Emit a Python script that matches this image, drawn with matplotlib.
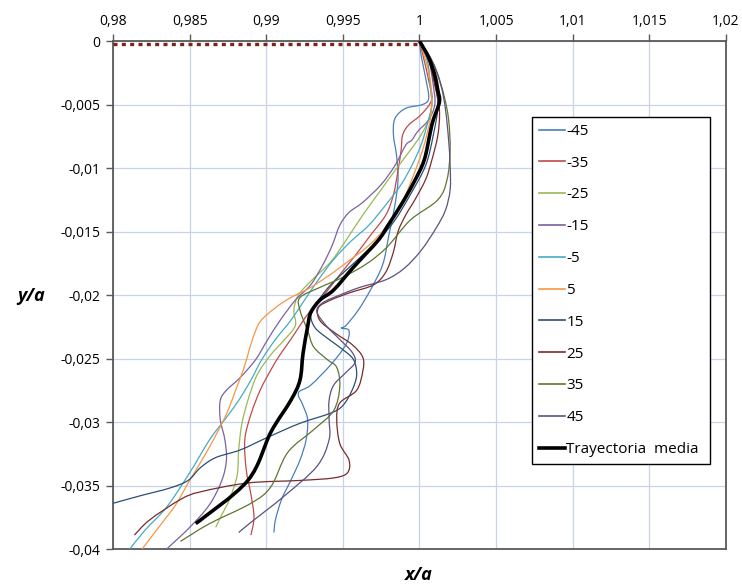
import matplotlib
matplotlib.use('Agg')
import matplotlib.pyplot as plt
import matplotlib.transforms as mtransforms
from matplotlib.path import Path
from matplotlib.patches import PathPatch
from matplotlib.lines import Line2D

plt.rcParams['font.family'] = ['Open Sans', 'DejaVu Sans']

# x/a, y/a of each trajectory
x_m45 = [1.0000, 1.0001, 1.0004, 1.0006, 1.0002, 0.9991, 0.9984, 0.9983, 0.9985, 0.9986, 0.9984, 0.9980, 0.9976, 0.9968,
         0.9960, 0.9952, 0.9949, 0.9954, 0.9952, 0.9942, 0.9929, 0.9921, 0.9924, 0.9927, 0.9926, 0.9922, 0.9916, 0.9910,
         0.9906, 0.9905]
y_m45 = [0, -0.0011, -0.0029, -0.0045, -0.0050, -0.0053, -0.0061, -0.0074, -0.0090, -0.0109, -0.0129, -0.0153, -0.0176,
         -0.0196, -0.0212, -0.0224, -0.0226, -0.0228, -0.0239, -0.0255, -0.0271, -0.0277, -0.0287, -0.0298, -0.0314,
         -0.0330, -0.0346, -0.0361, -0.0377, -0.0387]

x_m35 = [1.0000, 1.0003, 1.0006, 1.0008, 1.0001, 0.9993, 0.9989, 0.9988, 0.9986, 0.9983, 0.9978, 0.9968, 0.9958, 0.9948,
         0.9939, 0.9929, 0.9922, 0.9916, 0.9909, 0.9903, 0.9896, 0.9890, 0.9886, 0.9887, 0.9890, 0.9892, 0.9890]
y_m35 = [0, -0.0015, -0.0031, -0.0046, -0.0058, -0.0066, -0.0074, -0.0086, -0.0102, -0.0121, -0.0137, -0.0153, -0.0169,
         -0.0184, -0.0198, -0.0212, -0.0224, -0.0235, -0.0247, -0.0259, -0.0275, -0.0294, -0.0314, -0.0338, -0.0357,
         -0.0375, -0.0389]

x_m25 = [1.0000, 1.0005, 1.0007, 1.0008, 1.0006, 1.0001, 0.9994, 0.9984, 0.9975, 0.9963, 0.9952, 0.9942, 0.9930, 0.9921,
         0.9918, 0.9919, 0.9912, 0.9903, 0.9894, 0.9888, 0.9884, 0.9882, 0.9881, 0.9876, 0.9871, 0.9867]
y_m25 = [0, -0.0015, -0.0035, -0.0050, -0.0062, -0.0074, -0.0086, -0.0102, -0.0117, -0.0137, -0.0157, -0.0174, -0.0188,
         -0.0200, -0.0212, -0.0224, -0.0235, -0.0247, -0.0263, -0.0283, -0.0302, -0.0322, -0.0342, -0.0361, -0.0373,
         -0.0383]

x_m15 = [1.0000, 1.0006, 1.0009, 1.0010, 1.0006, 0.9999, 0.9995, 0.9991, 0.9984, 0.9975, 0.9963, 0.9954, 0.9948, 0.9943,
         0.9937, 0.9929, 0.9919, 0.9909, 0.9901, 0.9893, 0.9883, 0.9874, 0.9870, 0.9870, 0.9873, 0.9874, 0.9871, 0.9863,
         0.9850, 0.9835]
y_m15 = [0, -0.0015, -0.0035, -0.0050, -0.0062, -0.0071, -0.0078, -0.0082, -0.0098, -0.0113, -0.0127, -0.0135, -0.0145,
         -0.0161, -0.0176, -0.0192, -0.0204, -0.0220, -0.0235, -0.0251, -0.0265, -0.0275, -0.0283, -0.0298, -0.0314,
         -0.0330, -0.0346, -0.0365, -0.0383, -0.0400]

x_m5 = [1.0000, 1.0005, 1.0007, 1.0008, 1.0005, 1.0001, 0.9995, 0.9988, 0.9978, 0.9967, 0.9955, 0.9944, 0.9934, 0.9925,
        0.9916, 0.9906, 0.9897, 0.9890, 0.9882, 0.9873, 0.9863, 0.9850, 0.9835, 0.9821, 0.9811]
y_m5 = [0, -0.0015, -0.0035, -0.0050, -0.0066, -0.0082, -0.0098, -0.0113, -0.0129, -0.0145, -0.0158, -0.0172, -0.0188,
        -0.0204, -0.0220, -0.0235, -0.0251, -0.0267, -0.0283, -0.0298, -0.0314, -0.0340, -0.0367, -0.0385, -0.0400]

x_p5 = [1.0000, 1.0004, 1.0007, 1.0008, 1.0007, 1.0002, 0.9995, 0.9988, 0.9978, 0.9966, 0.9955, 0.9944, 0.9929, 0.9916,
        0.9906, 0.9896, 0.9891, 0.9888, 0.9885, 0.9880, 0.9875, 0.9869, 0.9860, 0.9850, 0.9841, 0.9831, 0.9819]
y_p5 = [0, -0.0015, -0.0031, -0.0046, -0.0062, -0.0086, -0.0109, -0.0129, -0.0147, -0.0162, -0.0172, -0.0182, -0.0194,
        -0.0202, -0.0210, -0.0221, -0.0235, -0.0247, -0.0259, -0.0275, -0.0291, -0.0306, -0.0326, -0.0346, -0.0365,
        -0.0381, -0.0400]

x_p15 = [1.0000, 1.0005, 1.0009, 1.0012, 1.0009, 1.0004, 0.9994, 0.9984, 0.9973, 0.9958, 0.9942, 0.9932, 0.9929, 0.9932,
         0.9941, 0.9950, 0.9957, 0.9959, 0.9956, 0.9950, 0.9942, 0.9922, 0.9901, 0.9883, 0.9867, 0.9857, 0.9849, 0.9837,
         0.9818, 0.9800]
y_p15 = [0, -0.0011, -0.0027, -0.0050, -0.0074, -0.0098, -0.0121, -0.0141, -0.0157, -0.0174, -0.0192, -0.0208, -0.0216,
         -0.0226, -0.0235, -0.0243, -0.0251, -0.0263, -0.0275, -0.0287, -0.0293, -0.0301, -0.0312, -0.0322, -0.0328,
         -0.0336, -0.0346, -0.0352, -0.0358, -0.0364]

x_p25 = [1.0000, 1.0006, 1.0010, 1.0013, 1.0012, 1.0008, 1.0004, 0.9997, 0.9991, 0.9986, 0.9983, 0.9978, 0.9970, 0.9955,
         0.9942, 0.9934, 0.9935, 0.9945, 0.9956, 0.9963, 0.9963, 0.9959, 0.9948, 0.9946, 0.9948, 0.9954, 0.9953, 0.9944,
         0.9922, 0.9888, 0.9857, 0.9844, 0.9824, 0.9814]
y_p25 = [0, -0.0015, -0.0035, -0.0054, -0.0074, -0.0094, -0.0109, -0.0125, -0.0137, -0.0150, -0.0166, -0.0182, -0.0192,
         -0.0198, -0.0204, -0.0210, -0.0220, -0.0230, -0.0239, -0.0249, -0.0260, -0.0275, -0.0285, -0.0298, -0.0317,
         -0.0330, -0.0340, -0.0344, -0.0346, -0.0348, -0.0355, -0.0361, -0.0377, -0.0389]

x_p35 = [1.0000, 1.0005, 1.0011, 1.0016, 1.0019, 1.0020, 1.0018, 1.0012, 0.9994, 0.9979, 0.9966, 0.9950, 0.9935, 0.9922,
         0.9922, 0.9927, 0.9931, 0.9940, 0.9946, 0.9948, 0.9944, 0.9931, 0.9914, 0.9903, 0.9890, 0.9863, 0.9844]
y_p35 = [0, -0.0009, -0.0023, -0.0043, -0.0062, -0.0086, -0.0109, -0.0125, -0.0141, -0.0162, -0.0175, -0.0186, -0.0194,
         -0.0202, -0.0212, -0.0228, -0.0241, -0.0251, -0.0257, -0.0272, -0.0291, -0.0306, -0.0324, -0.0351, -0.0364,
         -0.0380, -0.0394]

x_p45 = [1.0000, 1.0008, 1.0014, 1.0017, 1.0019, 1.0020, 1.0020, 1.0017, 1.0011, 1.0001, 0.9990, 0.9978, 0.9961, 0.9948,
         0.9937, 0.9933, 0.9939, 0.9948, 0.9956, 0.9958, 0.9952, 0.9944, 0.9941, 0.9941, 0.9941, 0.9933, 0.9911, 0.9890,
         0.9882]
y_p45 = [0, -0.0015, -0.0035, -0.0054, -0.0078, -0.0098, -0.0117, -0.0133, -0.0147, -0.0165, -0.0179, -0.0188, -0.0194,
         -0.0200, -0.0206, -0.0213, -0.0224, -0.0235, -0.0245, -0.0253, -0.0261, -0.0271, -0.0283, -0.0298, -0.0314,
         -0.0335, -0.0359, -0.0379, -0.0387]

x_mean = [1.0000, 1.0006, 1.0010, 1.0012, 1.0013, 1.0009, 1.0007, 1.0003, 0.9996, 0.9988, 0.9979, 0.9973, 0.9957, 0.9944,
          0.9935, 0.9929, 0.9927, 0.9924, 0.9922, 0.9916, 0.9903, 0.9888, 0.9854]
y_mean = [0, -0.0013, -0.0027, -0.0039, -0.0048, -0.0062, -0.0072, -0.0094, -0.0112, -0.0129, -0.0146, -0.0157, -0.0178,
          -0.0196, -0.0204, -0.0214, -0.0225, -0.0246, -0.0267, -0.0283, -0.0308, -0.0346, -0.0380]

# surface line y/a = 0
x_surface = [0.98, 1.0]
y_surface = [0, 0]

series_labels = ['-45', '-35', '-25', '-15', '-5', '5', '15', '25', '35', '45']
series_x = [x_m45, x_m35, x_m25, x_m15, x_m5, x_p5, x_p15, x_p25, x_p35, x_p45]
series_y = [y_m45, y_m35, y_m25, y_m15, y_m5, y_p5, y_p15, y_p25, y_p35, y_p45]
colors = ['#4A7EBB', '#BE4B48', '#98B954', '#7D60A0', '#46AAC5', '#F79646',
          '#2C4D75', '#772C2A', '#5F7530', '#5C5080']

x_ticks = [0.98, 0.985, 0.99, 0.995, 1.0, 1.005, 1.01, 1.015, 1.02]
y_ticks = [0, -0.005, -0.01, -0.015, -0.02, -0.025, -0.03, -0.035, -0.04]


def comma(v):
    return ('%g' % round(v, 4)).replace('.', ',')


def smooth_path(xs, ys):
    # excel style smoothed line through the points (catmull-rom as bezier)
    pts = list(zip(xs, ys))
    n = len(pts)
    verts = [pts[0]]
    codes = [Path.MOVETO]
    for i in range(n - 1):
        p0 = pts[max(i - 1, 0)]
        p1 = pts[i]
        p2 = pts[i + 1]
        p3 = pts[min(i + 2, n - 1)]
        c1 = (p1[0] + (p2[0] - p0[0]) / 6, p1[1] + (p2[1] - p0[1]) / 6)
        c2 = (p2[0] - (p3[0] - p1[0]) / 6, p2[1] - (p3[1] - p1[1]) / 6)
        verts += [c1, c2, p2]
        codes += [Path.CURVE4] * 3
    return Path(verts, codes)


fig = plt.figure(figsize=(7.42, 5.86), dpi=100)
ax = fig.add_axes([0.1523, 0.0631, 0.8261, 0.8669])

shift = mtransforms.offset_copy(ax.transData, fig=fig, x=0, y=-3, units='dots')
ax.plot(x_surface, y_surface, color='#7B2418', lw=2.4, linestyle=(0, (1.2, 1.3)),
        dash_capstyle='butt', transform=shift, clip_on=False, zorder=5)

handles = []
for xs, ys, lab, c in zip(series_x, series_y, series_labels, colors):
    ax.add_patch(PathPatch(smooth_path(xs, ys), fill=False, edgecolor=c, lw=0.9, zorder=3))
    handles.append(Line2D([], [], color=c, lw=1.2, label=lab))
ax.add_patch(PathPatch(smooth_path(x_mean, y_mean), fill=False, edgecolor='black', lw=2.6, zorder=4))
handles.append(Line2D([], [], color='black', lw=2.6, label='Trayectoria  media'))

ax.set_xlim(0.98, 1.02)
ax.set_ylim(-0.04, 0)
ax.xaxis.tick_top()
ax.set_xticks(x_ticks)
ax.set_xticklabels([comma(v) for v in x_ticks])
ax.set_yticks(y_ticks)
ax.set_yticklabels([comma(v) for v in y_ticks])
ax.tick_params(direction='out', length=5, width=1, color='#595959', labelsize=10, pad=4)
ax.grid(color='#C8D3E8', lw=0.9)
ax.set_axisbelow(True)
for sp in ax.spines.values():
    sp.set_color('#595959')
    sp.set_linewidth(1.3)

fig.text(0.565, 0.018, 'x/a', fontsize=13, fontweight='bold', style='italic', ha='center', va='center')
fig.text(0.042, 0.495, 'y/a', fontsize=13, fontweight='bold', style='italic', ha='center', va='center')

leg = ax.legend(handles=handles, loc='upper left',
                bbox_to_anchor=(532 / 742, 1 - 117 / 586, 178 / 742, 0.0),
                bbox_transform=fig.transFigure, mode='expand', fontsize=11, frameon=True,
                fancybox=False, edgecolor='black', framealpha=1, handlelength=1.7,
                handletextpad=0.1, labelspacing=1.1, borderpad=0.45, borderaxespad=0)
leg.get_frame().set_linewidth(1.0)
leg.set_zorder(6)

fig.savefig('out.png', dpi=100)
